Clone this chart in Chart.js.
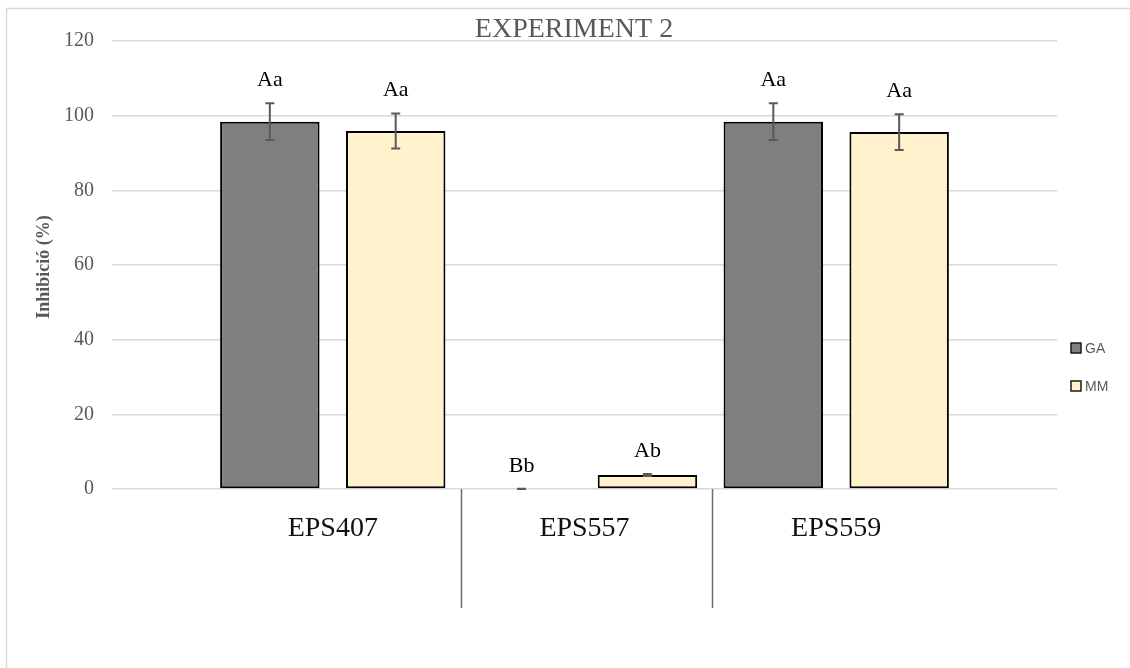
<!DOCTYPE html>
<html>
<head>
<meta charset="utf-8">
<script src="https://cdn.jsdelivr.net/npm/chart.js@4/dist/chart.umd.min.js"></script>
<style>
  html, body { margin: 0; padding: 0; background: #ffffff; }
  #wrap { width: 1130px; height: 668px; position: relative; }
</style>
</head>
<body>
<div id="wrap"><canvas id="expChart"></canvas></div>
<script>
// Data
const categories = ['EPS407', 'EPS557', 'EPS559'];
const gaValues = [98.4, 0, 98.4];
const gaErrors = [4.9, 0.1, 4.9];
const mmValues = [95.9, 3.75, 95.6];
const mmErrors = [4.7, 0.3, 4.8];
const gaLetters = ['Aa', 'Bb', 'Aa'];
const mmLetters = ['Aa', 'Ab', 'Aa'];
const yTicks = [0, 20, 40, 60, 80, 100, 120];
const seriesNames = ['GA', 'MM'];

const serif = "'Liberation Serif', 'Times New Roman', serif";
const sans = "'Liberation Sans', Arial, sans-serif";

function toPoints(vals) {
    return vals.map((v, i) => ({ x: i, y: v }));
}

// error bars, letters, separators, title, legend
const extras = {
    id: 'extras',
    afterDatasetsDraw(chart) {
        const ctx = chart.ctx;
        const y = chart.scales.y;
        const errs = [gaErrors, mmErrors];
        const letters = [gaLetters, mmLetters];
        chart.data.datasets.forEach((ds, di) => {
            const meta = chart.getDatasetMeta(di);
            meta.data.forEach((bar, i) => {
                const v = ds.data[i].y;
                const top = y.getPixelForValue(v + errs[di][i]);
                const bot = y.getPixelForValue(Math.max(0, v - errs[di][i]));
                ctx.save();
                ctx.strokeStyle = '#595959';
                ctx.lineWidth = 2;
                ctx.beginPath();
                ctx.moveTo(bar.x, top); ctx.lineTo(bar.x, bot);
                ctx.moveTo(bar.x - 4.5, top); ctx.lineTo(bar.x + 4.5, top);
                ctx.moveTo(bar.x - 4.5, bot); ctx.lineTo(bar.x + 4.5, bot);
                ctx.stroke();
                ctx.fillStyle = '#000000';
                ctx.font = '22px ' + serif;
                ctx.textAlign = 'center';
                ctx.textBaseline = 'alphabetic';
                ctx.fillText(letters[di][i], bar.x, top - 17);
                ctx.restore();
            });
        });
    },
    afterDraw(chart) {
        const ctx = chart.ctx;
        const x = chart.scales.x;
        const area = chart.chartArea;
        ctx.save();
        // outer frame
        ctx.strokeStyle = '#d9d9d9';
        ctx.lineWidth = 1.5;
        ctx.strokeRect(6.5, 8.5, 1300, 900);
        // category separators
        ctx.strokeStyle = '#6b6b6b';
        ctx.lineWidth = 1.5;
        [0.5, 1.5].forEach(v => {
            const px = Math.round(x.getPixelForValue(v)) + 2.5;
            ctx.beginPath();
            ctx.moveTo(px, area.bottom);
            ctx.lineTo(px, 608);
            ctx.stroke();
        });
        // title
        ctx.fillStyle = '#595959';
        ctx.font = '28px ' + serif;
        ctx.textAlign = 'center';
        ctx.textBaseline = 'alphabetic';
        ctx.fillText('EXPERIMENT 2', 574, 37);
        // y axis title
        ctx.save();
        ctx.translate(49, 267);
        ctx.rotate(-Math.PI / 2);
        ctx.font = 'bold 18px ' + serif;
        ctx.fillText('Inhibició (%)', 0, 0);
        ctx.restore();
        // legend
        const colors = ['#7f7f7f', '#fff2cc'];
        const rows = [348, 386];
        ctx.font = '14px ' + sans;
        ctx.textAlign = 'left';
        ctx.textBaseline = 'middle';
        seriesNames.forEach((name, i) => {
            ctx.fillStyle = colors[i];
            ctx.fillRect(1071, rows[i] - 5, 10, 10);
            ctx.strokeStyle = '#1a1a1a';
            ctx.lineWidth = 1.5;
            ctx.strokeRect(1071, rows[i] - 5, 10, 10);
            ctx.fillStyle = '#595959';
            ctx.fillText(name, 1085, rows[i] + 1);
        });
        ctx.restore();
    }
};

const ctx = document.getElementById('expChart').getContext('2d');
new Chart(ctx, {
    type: 'bar',
    data: {
        datasets: [{
            label: seriesNames[0],
            data: toPoints(gaValues),
            backgroundColor: '#7f7f7f',
            borderColor: '#000000',
            borderWidth: 2,
            borderSkipped: false
        }, {
            label: seriesNames[1],
            data: toPoints(mmValues),
            backgroundColor: '#fff2cc',
            borderColor: '#000000',
            borderWidth: 2,
            borderSkipped: false
        }]
    },
    options: {
        responsive: true,
        maintainAspectRatio: false,
        animation: false,
        categoryPercentage: 1.0,
        barPercentage: 0.79,
        layout: { padding: { left: 0, right: 73, top: 41, bottom: 0 } },
        plugins: {
            legend: { display: false },
            title: { display: false },
            tooltip: { enabled: false }
        },
        scales: {
            x: {
                type: 'linear',
                offset: false,
                min: -0.877,
                max: 2.877,
                afterBuildTicks: s => { s.ticks = categories.map((c, i) => ({ value: i })); },
                afterFit: s => { s.height = 179; },
                grid: { display: false, offset: false },
                border: { display: false },
                ticks: {
                    autoSkip: false,
                    maxRotation: 0,
                    padding: 15,
                    color: '#111111',
                    font: { family: serif, size: 28 },
                    callback: v => categories[v]
                }
            },
            y: {
                min: 0,
                max: 120,
                afterBuildTicks: s => { s.ticks = yTicks.map(v => ({ value: v })); },
                afterFit: s => { s.width = 112; },
                grid: { color: '#d9d9d9', lineWidth: 1.5, drawTicks: false },
                border: { display: false },
                ticks: {
                    padding: 18,
                    color: '#595959',
                    font: { family: serif, size: 20 }
                }
            }
        }
    },
    plugins: [extras]
});
</script>
</body>
</html>
